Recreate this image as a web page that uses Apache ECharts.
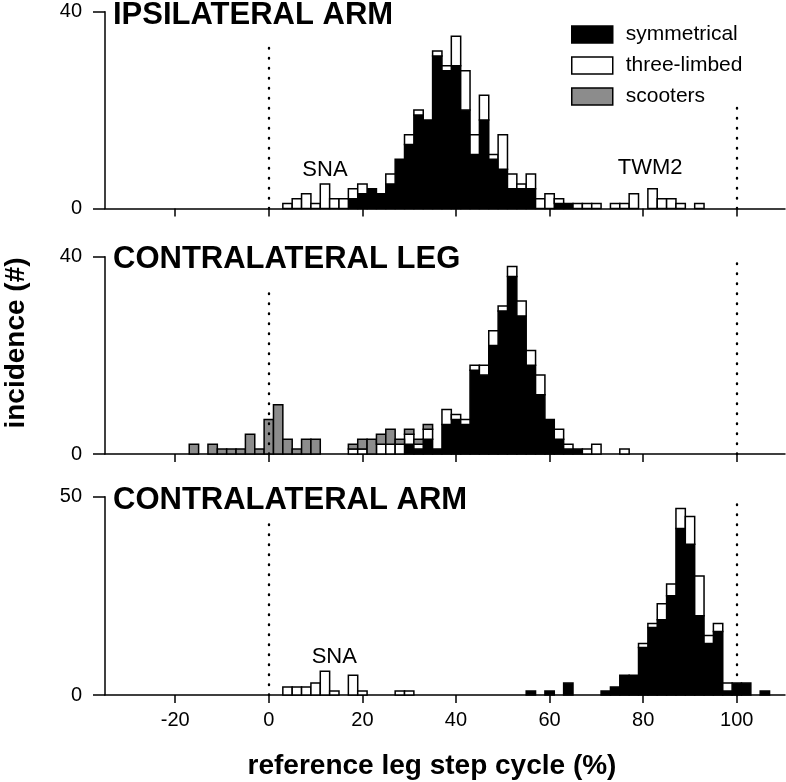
<!DOCTYPE html>
<html><head><meta charset="utf-8">
<script src="https://cdn.jsdelivr.net/npm/echarts@6/dist/echarts.min.js"></script>
<style>html,body{margin:0;padding:0;background:#fff}#c{width:786px;height:782px}</style>
</head><body><div id="c"></div>
<script>
// bin centres (% of reference leg step cycle), 2%-wide bins
const bins = [-18,-16,-14,-12,-10,-8,-6,-4,-2,0,
              2,4,6,8,10,12,14,16,18,20,
              22,24,26,28,30,32,34,36,38,40,
              42,44,46,48,50,52,54,56,58,60,
              62,64,66,68,70,72,74,76,78,80,
              82,84,86,88,90,92,94,96,98,100,
              102,104,106,108];

// IPSILATERAL ARM
const ipsiSym   = [0,0,0,0,0,0,0,0,0,0,
                   0,0,0,0,0,0,0,0,2,3,
                   4,3,5,10,13,19,18,31,28,29,
                   20,11,18,10,8,4,4,4,0,0,
                   1,1,0,0,0,0,0,0,0,0,
                   0,0,0,0,0,0,0,0,0,0,
                   0,0,0,0];
const ipsiThree = [0,0,0,0,0,0,0,0,0,0,
                   0,1,2,3,1,5,2,2,2,2,
                   0,0,2,0,2,1,0,1,1,6,
                   8,4,5,1,7,3,1,3,2,3,
                   1,0,1,1,1,0,1,1,3,0,
                   4,2,2,1,0,1,0,0,0,0,
                   0,0,0,0];
const ipsiScoot = [0,0,0,0,0,0,0,0,0,0,
                   0,0,0,0,0,0,0,0,0,0,
                   0,0,0,0,0,0,0,0,0,0,
                   0,0,0,0,0,0,0,0,0,0,
                   0,0,0,0,0,0,0,0,0,0,
                   0,0,0,0,0,0,0,0,0,0,
                   0,0,0,0];
// CONTRALATERAL LEG
const legSym    = [0,0,0,0,0,0,0,0,0,0,
                   0,0,0,0,0,0,0,0,0,0,
                   0,0,0,0,2,1,3,1,6,7,
                   6,17,16,22,29,36,28,18,12,7,
                   3,1,1,0,0,0,0,0,0,0,
                   0,0,0,0,0,0,0,0,0,0,
                   0,0,0,0];
const legThree  = [0,0,0,0,0,0,0,0,0,0,
                   0,0,0,0,0,0,0,0,1,1,
                   0,2,2,2,2,1,2,0,3,1,
                   1,1,2,3,1,2,3,3,4,0,
                   2,1,0,1,2,0,0,1,0,0,
                   0,0,0,0,0,0,0,0,0,0,
                   0,0,0,0];
const legScoot  = [0,2,0,2,1,1,1,4,1,7,
                   10,3,1,3,3,0,0,0,1,2,
                   3,2,3,1,1,1,1,0,0,0,
                   0,0,0,0,0,0,0,0,0,0,
                   0,0,0,0,0,0,0,0,0,0,
                   0,0,0,0,0,0,0,0,0,0,
                   0,0,0,0];
// CONTRALATERAL ARM
const armSym    = [0,0,0,0,0,0,0,0,0,0,
                   0,0,0,0,0,0,0,0,0,0,
                   0,0,0,0,0,0,0,0,0,0,
                   0,0,0,0,0,0,0,1,0,1,
                   0,3,0,0,0,1,2,5,5,12,
                   17,19,25,42,38,20,13,16,1,3,
                   3,0,1,0];
const armThree  = [0,0,0,0,0,0,0,0,0,0,
                   0,2,2,2,3,6,1,0,5,1,
                   0,0,0,1,1,0,0,0,0,0,
                   0,0,0,0,0,0,0,0,0,0,
                   0,0,0,0,0,0,0,0,0,1,
                   1,4,3,5,7,10,2,2,2,0,
                   0,0,0,0];
const armScoot  = [0,0,0,0,0,0,0,0,0,0,
                   0,0,0,0,0,0,0,0,0,0,
                   0,0,0,0,0,0,0,0,0,0,
                   0,0,0,0,0,0,0,0,0,0,
                   0,0,0,0,0,0,0,0,0,0,
                   0,0,0,0,0,0,0,0,0,0,
                   0,0,0,0];

const panelTitles = ['IPSILATERAL ARM', 'CONTRALATERAL LEG', 'CONTRALATERAL ARM'];
const yMax = [40, 40, 50];
const xTicks = [-20, 0, 20, 40, 60, 80, 100];
const seriesNames = ['symmetrical', 'three-limbed', 'scooters'];
const xTitle = 'reference leg step cycle (%)';
const yTitle = 'incidence (#)';
// in-panel annotations: [panel, text, x value, y value]
const notes = [[0, 'SNA', 12, 7.8], [0, 'TWM2', 81.5, 8.2], [2, 'SNA', 14, 9.6]];
// dotted reference lines at 0 % and 100 %: [x, top value] per panel
const refLines = [[[0, 33], [100, 21]], [[0, 34], [100, 40]], [[0, 45], [100, 50]]];

const panels = [
  [ipsiSym, ipsiThree, ipsiScoot],
  [legSym, legThree, legScoot],
  [armSym, armThree, armScoot]
];

const fills = ['#000000', '#ffffff', '#8c8c8c'];
const FONT = 'Liberation Sans, Arial, Helvetica, sans-serif';

const gridBoxes = [
  {left: 105, width: 680, top: 11.7, height: 196.8},
  {left: 105, width: 680, top: 256.7, height: 197.3},
  {left: 105, width: 680, top: 496.7, height: 198.3}
];

const grid = gridBoxes.map(g => Object.assign({containLabel: false}, g));

const xAxis = gridBoxes.map((g, p) => ({
  type: 'value', gridIndex: p, min: -35, max: 110.3,
  axisLine: {show: true, onZero: false, lineStyle: {color: '#000', width: 1.5}},
  axisTick: {show: true, customValues: xTicks, length: 8, inside: false, lineStyle: {color: '#000', width: 1.5}},
  axisLabel: {show: p === 2, customValues: xTicks, margin: 15, fontSize: 20, fontFamily: FONT, color: '#000'},
  splitLine: {show: false}
}));

const yAxis = gridBoxes.map((g, p) => ({
  type: 'value', gridIndex: p, min: 0, max: yMax[p], interval: yMax[p],
  axisLine: {show: true, onZero: false, lineStyle: {color: '#000', width: 1.5}},
  axisTick: {show: true, length: 12, inside: false, lineStyle: {color: '#000', width: 1.5}},
  axisLabel: {show: true, margin: 23, fontSize: 20, fontFamily: FONT, color: '#000'},
  splitLine: {show: false}
}));

function makeRender(fill) {
  return function (params, api) {
    const c = api.value(0), b = api.value(1), t = api.value(2);
    const p0 = api.coord([c - 1, t]);
    const p1 = api.coord([c + 1, b]);
    return {
      type: 'rect',
      shape: {x: p0[0], y: p0[1], width: p1[0] - p0[0], height: p1[1] - p0[1]},
      style: {fill: fill, stroke: '#000', lineWidth: 1.5}
    };
  };
}

const series = [];
panels.forEach((layers, p) => {
  const base = bins.map(() => 0);
  layers.forEach((vals, s) => {
    const data = [];
    bins.forEach((c, i) => {
      if (vals[i] > 0) {
        data.push([c, base[i], base[i] + vals[i]]);
        base[i] += vals[i];
      }
    });
    const ser = {
      type: 'custom', name: seriesNames[s], xAxisIndex: p, yAxisIndex: p,
      renderItem: makeRender(fills[s]),
      encode: {x: 0, y: [1, 2]},
      itemStyle: {color: fills[s], borderColor: '#000', borderWidth: 1.5},
      data: data, silent: true, animation: false
    };
    if (s === 0) {
      ser.markLine = {
        silent: true, symbol: 'none', animation: false,
        label: {show: false},
        lineStyle: {color: '#000', width: 2.4, type: [0.5, 9.5], cap: 'round'},
        data: refLines[p].map(r => [{coord: [r[0], 0]}, {coord: [r[0], r[1]]}])
      };
    }
    series.push(ser);
  });
});

// annotation text series (positioned through the axes)
notes.forEach(n => {
  series.push({
    type: 'custom', xAxisIndex: n[0], yAxisIndex: n[0], silent: true, animation: false,
    data: [[n[2], n[3]]], encode: {x: 0, y: 1},
    renderItem: function (params, api) {
      const pt = api.coord([api.value(0), api.value(1)]);
      return {type: 'text', x: pt[0], y: pt[1],
        style: {text: n[1], font: '22px ' + FONT, fill: '#000', textAlign: 'center', textVerticalAlign: 'middle'}};
    }
  });
});

const graphic = [];
const titleY = [15.5, 259, 500.5];
panelTitles.forEach((t, p) => {
  graphic.push({type: 'text', x: 113, y: titleY[p], z: 10,
    style: {text: t, font: 'bold 31px ' + FONT, fill: '#000', textVerticalAlign: 'middle', textAlign: 'left'}});
});
graphic.push({type: 'text', x: 432, y: 766, z: 10,
  style: {text: xTitle, font: 'bold 28px ' + FONT, fill: '#000', textAlign: 'center', textVerticalAlign: 'middle'}});
graphic.push({type: 'text', x: 16, y: 343, rotation: Math.PI / 2, z: 10,
  style: {text: yTitle, font: 'bold 28px ' + FONT, fill: '#000', textAlign: 'center', textVerticalAlign: 'middle'}});

const chart = echarts.init(document.getElementById('c'), null, {renderer: 'canvas'});
chart.setOption({
  animation: false,
  backgroundColor: '#fff',
  grid: grid,
  xAxis: xAxis,
  yAxis: yAxis,
  legend: {
    orient: 'vertical', left: 571, top: 24, padding: 0, itemWidth: 41, itemHeight: 17, itemGap: 10,
    icon: 'rect', selectedMode: false, data: seriesNames,
    itemStyle: {borderColor: '#000', borderWidth: 1.5},
    textStyle: {fontSize: 21, fontFamily: FONT, color: '#000', padding: [0, 0, 0, 8]}
  },
  series: series,
  graphic: graphic
});
</script>
</body></html>
